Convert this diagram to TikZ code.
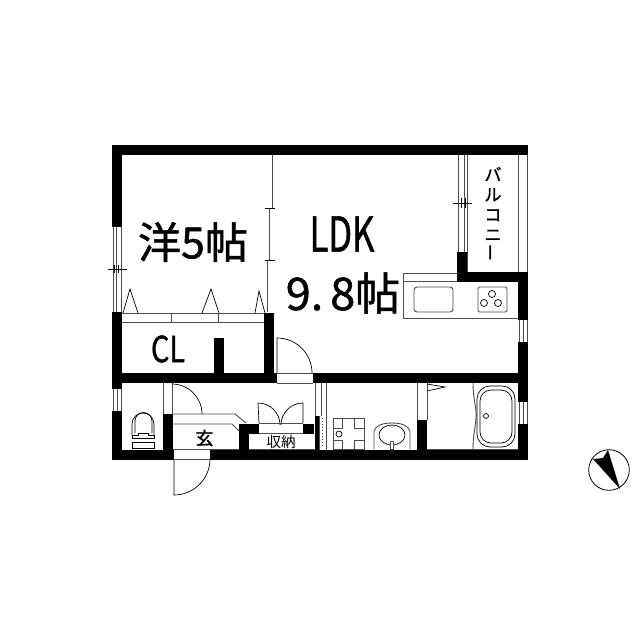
\documentclass[tikz,border=0pt]{standalone}
\usepackage{fontspec}
\setmainfont{Noto Sans CJK JP}
\newfontfamily\heavyfont[FakeBold=1.2]{Noto Sans CJK JP}
\usetikzlibrary{positioning}
\tikzset{
  wall/.style={fill=black},
  fitting/.style={draw=black!70, line width=0.9pt},
  swing/.style={draw=black, line width=0.7pt},
  label/.style={inner sep=0pt, text=black},
}
\newcommand{\sized}[1]{\fontsize{#1}{#1}\selectfont}
\begin{document}
\begin{tikzpicture}[x=1pt, y=-1pt]
        \useasboundingbox (0,0) rectangle (640,640);
        \fill [white] (0,0) rectangle (640,640);

        % Draw the windows and thin partitions
        \draw [fitting] (113,227) -- (113,312) (116,227) -- (116,312) (121,227) -- (121,312);
        \draw [swing] (108,269) -- (127,269) (114,265) -- (114,273) (118,265) -- (118,273);
        \draw [fitting] (272,155) -- (272,208) (269,208) -- (269,260) (267,260) -- (267,312);
        \draw [swing] (265,208) -- (275,208) (265,260) -- (275,260);
        \draw [fitting] (458,155) -- (458,252) (464,155) -- (464,252) (467,155) -- (467,272);
        \draw [swing] (453,203) -- (472,203) (461,198) -- (461,208) (465,198) -- (465,208);
        \draw [fitting] (518,155) -- (518,272) (527,155) -- (527,272);
        \draw [fitting] (519,320) -- (519,342) (523,320) -- (523,342) (527,320) -- (527,342);
        \draw [fitting] (519,402) -- (519,424) (523,402) -- (523,424) (527,402) -- (527,424);
        \draw [fitting] (113,389) -- (113,411) (117,389) -- (117,411) (121,389) -- (121,411);
        \draw [fitting] (315,383) -- (315,416) (321,383) -- (321,416) (326,383) -- (326,450);
        \draw [fitting] (319,416) -- (319,450);
        \draw [black!70, line width=1pt, dotted] (322.5,418) -- (322.5,448);
        \draw [fitting] (163,383) -- (163,414) (172,383) -- (172,414);
        \draw [fitting] (417,383) -- (417,420) (427,383) -- (427,420);

        % Draw the closet front
        \draw [fitting] (122,313) -- (265,313) (122,322) -- (265,322);
        \draw [fitting] (171,313) -- (171,322) (218,313) -- (218,322);
        \draw [swing] (123,313) -- (130,289) -- (138,313);
        \draw [swing] (202,313) -- (211,289) -- (219,313);
        \draw [swing] (255,313) -- (259,291) -- (265,313);

        % Draw the doors
        \draw [swing] (277,373) -- (277,338) arc [start angle=-90, end angle=0, radius=35];
        \draw [fitting] (277,373) -- (313,373) (277,383) -- (313,383);
        \draw [swing] (172,384) arc [start angle=-90, end angle=0, radius=30] ;
        \draw [swing] (174,459) -- (174,495) arc [start angle=90, end angle=0, radius=36];
        \draw [fitting] (174,449) -- (210,449) (174,459) -- (210,459);
        \draw [swing] (259,423) -- (258,403) arc [start angle=-90, end angle=0, radius=22];
        \draw [swing] (303,423) -- (303,403) arc [start angle=-90, end angle=-180, radius=22];
        \draw [fitting] (259,423) -- (303,423) (259,433) -- (303,433);
        \draw [swing] (427,384) -- (445,387) -- (427,391);

        % Draw the entrance step and the storage
        \draw [fitting] (173,414) -- (235,414) -- (246,423);
        \draw [fitting] (173,424) -- (232,424) -- (239,431);
        \draw [fitting] (173,449) -- (239,449) (249,449) -- (315,449);

        % Draw the walls
        \fill [wall] (112,145) rectangle (528,155);
        \fill [wall] (112,145) rectangle (122,227);
        \fill [wall] (112,312) rectangle (122,389);
        \fill [wall] (112,411) rectangle (122,460);
        \fill [wall] (264,313) rectangle (274,383);
        \fill [wall] (112,373) rectangle (277,383);
        \fill [wall] (313,373) rectangle (528,383);
        \fill [wall] (214,338) rectangle (224,373);
        \fill [wall] (457,252) rectangle (467,282);
        \fill [wall] (457,272) rectangle (528,282);
        \fill [wall] (518,272) rectangle (528,320);
        \fill [wall] (518,342) rectangle (528,402);
        \fill [wall] (518,424) rectangle (528,460);
        \fill [wall] (112,450) rectangle (174,460);
        \fill [wall] (210,450) rectangle (528,460);
        \fill [wall] (163,414) rectangle (173,450);
        \fill [wall] (239,424) rectangle (249,450);
        \fill [wall] (239,424) rectangle (259,434);
        \fill [wall] (303,424) rectangle (314,434);
        \fill [wall] (315,416) rectangle (319,450);
        \fill [wall] (417,420) rectangle (427,450);

        % Draw the kitchen
        \draw [fitting] (457,273) -- (403,273) -- (403,318) -- (518,318);
        \draw [fitting] (403,281) -- (457,281);
        \draw [fitting, rounded corners=3pt] (414,287) rectangle (453,312);
        \draw [fitting, rounded corners=1.5pt] (478,287) rectangle (507,312);
        \foreach \x/\y in {492/294, 484/303, 498/303}
            \draw [swing] (\x,\y) circle [radius=3.5];

        % Draw the toilet
        \draw [swing] (132,435) -- (132,424) arc [start angle=180, end angle=360, radius=11] -- (154,435);
        \draw [swing] (135,433) -- (135,421) arc [start angle=180, end angle=360, radius=8.5] -- (152,433);
        \draw [swing] (132,438) -- (132,435) -- (138,435) -- (138,433) -- (148,433) -- (148,435) -- (154,435) -- (154,438) -- cycle;
        \draw [swing] (132,442) rectangle (154,448);

        % Draw the washing machine pan and the basin
        \draw [fitting] (333,418) rectangle (364,449);
        \draw [fitting] (342,418) -- (342,428) -- (333,428) (354,418) -- (354,428) -- (364,428);
        \draw [fitting] (342,449) -- (342,440) -- (333,440) (354,449) -- (354,440) -- (364,440);
        \draw [swing] (339,434) circle [radius=3];
        \draw [fitting] (374,449) -- (374,431) .. controls (376,426) and (381,423) .. (392,423) .. controls (403,423) and (408,426) .. (410,431) -- (410,449);
        \draw [swing] (392,435) ellipse [x radius=13, y radius=10];
        \fill [white, draw=black!70, line width=0.6pt] (390,441) rectangle (393.5,449);

        % Draw the bath
        \draw [fitting] (427,449) -- (518,449);
        \draw [fitting] (473,383) .. controls (473,400) and (477,408) .. (476,418) .. controls (475,430) and (473,436) .. (473,449);
        \draw [swing, rounded corners=13pt] (477,386) rectangle (515,447);
        \draw [swing, rounded corners=11pt] (480,390) rectangle (512,443);
        \draw [swing] (486,416) circle [radius=2.5];

        % Draw the north mark
        \draw [swing, line width=0.8pt] (609,470) circle [radius=20.3];
        \fill [black] (608,450) -- (620,489) -- (593,459) -- (603,458) -- cycle;

        % Add the room names
        \node (western) [label, font=\heavyfont\sized{43}] at (193,242) {洋5帖};
        \node (ldk)     [label, font=\heavyfont\sized{48}, xscale=0.72, transform shape] at (342,234) {LDK};
        \node (ldksize) [label, font=\heavyfont\sized{45}] at (343,293) {9.\kern7pt 8帖};
        \node (closet)  [label, font=\heavyfont\sized{36}, xscale=0.8, transform shape] at (168,349) {CL};
        \node (entry)   [label, font=\heavyfont\sized{18}] at (204.5,438) {玄};
        \node (storage) [label, font=\sized{14.5}] at (281,442) {収納};
        \node (balcony) [label, font=\heavyfont\sized{17}, align=center] at (493,214) {バ\\[3pt]ル\\[3pt]コ\\[3pt]ニ\\[3pt]\rotatebox{90}{ー}};
\end{tikzpicture}
\end{document}
